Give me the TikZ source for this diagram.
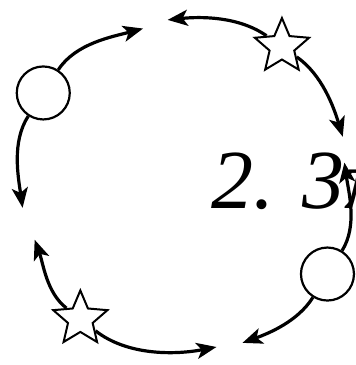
\documentclass[tikz,border=0pt]{standalone}
\usepackage{fontspec}
\setmainfont{Liberation Serif}
\usetikzlibrary{shapes.geometric,arrows.meta,calc}
\begin{document}
\begin{tikzpicture}[x=1pt,y=1pt,
  ring/.style={line width=3.2pt, -{Stealth[length=20pt,width=16pt,inset=5pt]}, looseness=0.86},
  ringnode/.style={circle, draw, line width=2.2pt, fill=white, minimum size=53pt, inner sep=0pt},
  starnode/.style={star, star points=5, star point ratio=2.2, draw, line width=2pt, fill=white, minimum size=57pt, inner sep=0pt},
  bigtext/.style={font=\itshape\fontsize{84}{84}\selectfont, inner sep=0pt, anchor=base west}]
\useasboundingbox (0,0) rectangle (356,-365);
\fill[white] (0,0) rectangle (356,-365);
\clip (0,0) rectangle (356,-365);
\coordinate (C) at (185,-185);
% nodes on the ring
\node[ringnode] (L) at ($(C)+(147:169)$) {};
\node[starnode] (T) at ($(C)+(55:169)$) {};
\node[ringnode] (R) at ($(C)+(-32:168)$) {};
\node[starnode] (B) at ($(C)+(232:170)$) {};
% free arrow ends
\coordinate (tL1) at ($(C)+(105:162)$);
\coordinate (tL2) at ($(C)+(188:164)$);
\coordinate (tT1) at ($(C)+(96:166)$);
\coordinate (tT2) at ($(C)+(17:165)$);
\coordinate (tR1) at ($(C)+(8:161)$);
\coordinate (tR2) at ($(C)+(-70:168)$);
\coordinate (tB1) at ($(C)+(200:160)$);
\coordinate (tB2) at ($(C)+(281:165)$);
% arrows
\draw[ring] (L) to[out=57,in=195] (tL1);
\draw[ring] (L) to[out=237,in=98] (tL2);
\draw[ring] (T) to[out=145,in=6] (tT1);
\draw[ring] (T) to[out=-35,in=107] (tT2);
\draw[ring] (R) to[out=58,in=-82] (tR1);
\draw[ring] (R) to[out=-122,in=20] (tR2);
\draw[ring] (B) to[out=142,in=290] (tB1);
\draw[ring] (B) to[out=322,in=191] (tB2);
% text
\node[bigtext] (txt) at (211,-208) {2. 3π};
\end{tikzpicture}
\end{document}
